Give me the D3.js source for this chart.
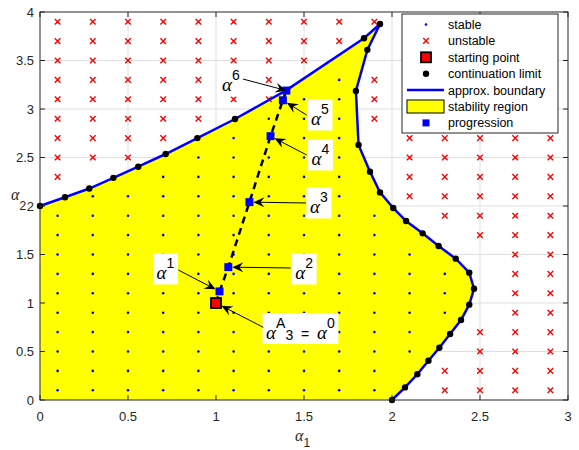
<!DOCTYPE html>
<html>
<head>
<meta charset="utf-8">
<script src="https://cdn.jsdelivr.net/npm/d3@7"></script>
<style>
body { margin: 0; background: #fff; }
svg { display: block; }
</style>
</head>
<body>
<div id="plot"></div>
<script>
var width = 579, height = 450
var plotLeft = 40, plotRight = 568, plotTop = 12, plotBottom = 400

// sample grid, one status string per column (j = 0 .. 19 from the bottom)
// S = stable, U = unstable, - = no marker
var gridX = [0.1, 0.3, 0.5, 0.7, 0.9, 1.1, 1.3, 1.5, 1.7, 1.9, 2.1, 2.3, 2.5, 2.7, 2.9]
var gridY = [0.1, 0.3, 0.5, 0.7, 0.9, 1.1, 1.3, 1.5, 1.7, 1.9, 2.1, 2.3, 2.5, 2.7, 2.9, 3.1, 3.3, 3.5, 3.7, 3.9]
var gridStatus = [
	'SSSSSSSSSS-UUUUUUUUU',
	'SSSSSSSSSSS-UUUUUUUU',
	'SSSSSSSSSSS-UUUUUUUU',
	'SSSSSSSSSSSS-UUUUUUU',
	'SSSSSSSSSSSSS-UUUUUU',
	'SSSSSSSSSSSSSS-UUUUU',
	'SSSSSSSSSSSSSSSUUUUU',
	'SSSSSSSSSSSSSSSS-UUU',
	'SSSSSSSSSSSSSSSSS-UU',
	'SSSSSSSSSS----UUU--U',
	'--SSSSSS--UUUUUUUUUU',
	'UU--SSS--UUUUUUUUUUU',
	'UUUU----UUUUUUUUUUUU',
	'UUUUUUUUUUUUUUUUUUUU',
	'UUUUUUUUUUUUUUUUUUUU'
]

// continuation limits (approx. boundary)
var boundaryX = [0, 0.142, 0.28, 0.417, 0.558, 0.714, 0.894, 1.108, 1.396, 1.841, 1.932, 1.86, 1.795, 1.81, 1.875, 1.932, 2.007, 2.08, 2.174, 2.265, 2.362, 2.439, 2.466, 2.439, 2.392, 2.33, 2.269, 2.207, 2.144, 2.074, 2.0]
var boundaryY = [2, 2.09, 2.18, 2.29, 2.405, 2.536, 2.70, 2.897, 3.19, 3.73, 3.876, 3.61, 3.186, 2.63, 2.354, 2.14, 1.98, 1.845, 1.718, 1.588, 1.457, 1.312, 1.148, 0.983, 0.825, 0.68, 0.539, 0.405, 0.265, 0.13, 0]

// progression alpha^0 .. alpha^6
var progX = [1.0, 1.02, 1.07, 1.19, 1.31, 1.38, 1.40]
var progY = [1.0, 1.12, 1.37, 2.04, 2.72, 3.09, 3.19]

// annotation label centres and arrow tails
var annLabelX = [1.480, 0.713, 1.501, 1.585, 1.594, 1.591, 1.085]
var annLabelY = [0.737, 1.351, 1.351, 2.031, 2.526, 2.938, 3.289]
var annTailX = [1.269, 0.786, 1.424, 1.511, 1.515, 1.515, 1.153]
var annTailY = [0.749, 1.340, 1.361, 2.031, 2.526, 2.938, 3.309]

var xTicks = [0, 0.5, 1, 1.5, 2, 2.5, 3]
var yTicks = [0, 0.5, 1, 1.5, 2, 2.5, 3, 3.5, 4]
var legendLabels = ['stable', 'unstable', 'starting point', 'continuation limit', 'approx. boundary', 'stability region', 'progression']

var sans = '"Liberation Sans", Arial, Helvetica, sans-serif'
var serif = '"Liberation Serif", "Times New Roman", serif'
var axisColor = '#262626'

var x = d3.scaleLinear().domain([0, 3]).range([plotLeft, plotRight])
var y = d3.scaleLinear().domain([0, 4]).range([plotBottom, plotTop])

var svg = d3.select('#plot').append('svg')
	.attr('width', width)
	.attr('height', height)
	.style('font-family', sans)

svg.append('rect').attr('width', width).attr('height', height).attr('fill', '#fff')

// grid
var grid = svg.append('g')
grid.selectAll('.gx').data(xTicks.slice(1, -1)).enter().append('line')
	.attr('x1', d => x(d)).attr('x2', d => x(d))
	.attr('y1', plotTop).attr('y2', plotBottom)
	.attr('stroke', '#dfdfdf').attr('stroke-width', 1)
grid.selectAll('.gy').data(yTicks.slice(1, -1)).enter().append('line')
	.attr('y1', d => y(d)).attr('y2', d => y(d))
	.attr('x1', plotLeft).attr('x2', plotRight)
	.attr('stroke', '#dfdfdf').attr('stroke-width', 1)

// stability region
var boundary = boundaryX.map((d, i) => [d, boundaryY[i]])
var region = boundary.concat([[0, 0]])
svg.append('path')
	.attr('d', d3.line().x(d => x(d[0])).y(d => y(d[1]))(region) + 'Z')
	.attr('fill', '#ffff00')

// grid markers
var stable = [], unstable = []
gridStatus.forEach(function(col, i){
	for (var j = 0; j < col.length; j++){
		if (col[j] == 'S') stable.push([gridX[i], gridY[j]])
		if (col[j] == 'U') unstable.push([gridX[i], gridY[j]])
	}
})
svg.append('g').selectAll('circle').data(stable).enter().append('circle')
	.attr('cx', d => x(d[0])).attr('cy', d => y(d[1]))
	.attr('r', 1.3).attr('fill', '#0000ff')

function cross(cx, cy, s){
	return 'M' + (cx - s) + ',' + (cy - s) + 'L' + (cx + s) + ',' + (cy + s) +
		'M' + (cx - s) + ',' + (cy + s) + 'L' + (cx + s) + ',' + (cy - s)
}
svg.append('g').selectAll('path').data(unstable).enter().append('path')
	.attr('d', d => cross(x(d[0]), y(d[1]), 2.8))
	.attr('stroke', '#ff0000').attr('stroke-width', 1.4).attr('fill', 'none')

// boundary
svg.append('path')
	.attr('d', d3.line().x(d => x(d[0])).y(d => y(d[1]))(boundary))
	.attr('fill', 'none').attr('stroke', '#0000ff').attr('stroke-width', 2.5)
svg.append('g').selectAll('circle').data(boundary).enter().append('circle')
	.attr('cx', d => x(d[0])).attr('cy', d => y(d[1]))
	.attr('r', 3.2).attr('fill', '#000')

// progression
var prog = progX.map((d, i) => [d, progY[i]])
svg.append('path')
	.attr('d', d3.line().x(d => x(d[0])).y(d => y(d[1]))(prog))
	.attr('fill', 'none').attr('stroke', '#000').attr('stroke-width', 2.5)
	.attr('stroke-dasharray', '7,5')
svg.append('g').selectAll('rect').data(prog.slice(1)).enter().append('rect')
	.attr('x', d => x(d[0]) - 4).attr('y', d => y(d[1]) - 4)
	.attr('width', 8).attr('height', 8).attr('fill', '#0000ff')
svg.append('rect')
	.attr('x', x(prog[0][0]) - 5).attr('y', y(prog[0][1]) - 5)
	.attr('width', 10).attr('height', 10)
	.attr('fill', '#ff0000').attr('stroke', '#000').attr('stroke-width', 1.8)

// annotations
function labelParts(i){
	if (i == 0) return [['α', 'g', 0], ['A', 's', -11], ['3', 's', 1], ['\u00a0\u00a0=\u00a0\u00a0', 's', 0], ['α', 'g', 0], ['0', 's', -11]]
	return [['α', 'g', 0], [String(i), 's', -11]]
}
var ann = svg.append('g')
annLabelX.forEach(function(lx, i){
	var g = ann.append('g')
	var t = g.append('text').attr('x', 0).attr('y', 0)
	var prev = 0
	labelParts(i).forEach(function(p){
		var ts = t.append('tspan').text(p[0]).attr('dy', p[2] - prev)
		prev = p[2]
		if (p[1] == 'g') ts.style('font-family', serif).style('font-style', 'italic').style('font-size', '19px')
		else ts.style('font-size', '14px')
	})
	t.attr('fill', '#000')
	var bb = t.node().getBBox()
	var cx = x(lx), cy = y(annLabelY[i])
	g.attr('transform', 'translate(' + (cx - bb.x - bb.width / 2) + ',' + (cy - bb.y - bb.height / 2) + ')')
	g.insert('rect', 'text')
		.attr('x', bb.x - 3.5).attr('y', bb.y - 1.5)
		.attr('width', bb.width + 7).attr('height', bb.height + 3)
		.attr('fill', '#fff')
})

function arrowHead(tx, ty, ux, uy){
	var L = 11, W = 5, N = 7
	var px = -uy, py = ux
	return 'M' + tx + ',' + ty +
		'L' + (tx - ux * L + px * W) + ',' + (ty - uy * L + py * W) +
		'L' + (tx - ux * N) + ',' + (ty - uy * N) +
		'L' + (tx - ux * L - px * W) + ',' + (ty - uy * L - py * W) + 'Z'
}
annTailX.forEach(function(tx, i){
	var sx = x(tx), sy = y(annTailY[i])
	var ex = x(progX[i]), ey = y(progY[i])
	var dx = ex - sx, dy = ey - sy
	var len = Math.sqrt(dx * dx + dy * dy)
	var ux = dx / len, uy = dy / len
	var half = i == 0 ? 5.5 : (i == 6 ? 0 : 4)
	var t = half / Math.max(Math.abs(ux), Math.abs(uy))
	ex = ex - ux * t; ey = ey - uy * t
	ann.append('line')
		.attr('x1', sx).attr('y1', sy).attr('x2', ex - ux * 6).attr('y2', ey - uy * 6)
		.attr('stroke', '#000').attr('stroke-width', 1)
	ann.append('path').attr('d', arrowHead(ex, ey, ux, uy)).attr('fill', '#000')
})

// axes box and ticks
var axes = svg.append('g')
axes.append('rect')
	.attr('x', plotLeft).attr('y', plotTop).attr('width', plotRight - plotLeft).attr('height', plotBottom - plotTop)
	.attr('fill', 'none').attr('stroke', axisColor).attr('stroke-width', 1)
xTicks.forEach(function(v){
	axes.append('line').attr('x1', x(v)).attr('x2', x(v)).attr('y1', plotBottom).attr('y2', plotBottom - 5).attr('stroke', axisColor)
	axes.append('line').attr('x1', x(v)).attr('x2', x(v)).attr('y1', plotTop).attr('y2', plotTop + 5).attr('stroke', axisColor)
	axes.append('text').attr('x', x(v)).attr('y', plotBottom + 21)
		.attr('text-anchor', 'middle').attr('fill', axisColor).style('font-size', '13px').text(String(v))
})
yTicks.forEach(function(v){
	axes.append('line').attr('y1', y(v)).attr('y2', y(v)).attr('x1', plotLeft).attr('x2', plotLeft + 5).attr('stroke', axisColor)
	axes.append('line').attr('y1', y(v)).attr('y2', y(v)).attr('x1', plotRight).attr('x2', plotRight - 5).attr('stroke', axisColor)
	axes.append('text').attr('x', plotLeft - 6).attr('y', y(v) + 4.5)
		.attr('text-anchor', 'end').attr('fill', axisColor).style('font-size', '13px').text(String(v))
})

// axis labels
var xl = axes.append('text').attr('x', 295).attr('y', 441).attr('fill', axisColor)
xl.append('tspan').text('α').style('font-family', serif).style('font-style', 'italic').style('font-size', '16px')
xl.append('tspan').text('1').attr('dy', 6).style('font-size', '12px')
var yl = axes.append('text').attr('x', 11).attr('y', 200).attr('fill', axisColor)
yl.append('tspan').text('α').style('font-family', serif).style('font-style', 'italic').style('font-size', '16px')
yl.append('tspan').text('2').attr('dy', 10).style('font-size', '12px')

// legend
var lg = svg.append('g')
var lgX = 402, lgY = 14, lgW = 156, lgH = 119, rowH = 16.4, iconX = 426
lg.append('rect').attr('x', lgX).attr('y', lgY).attr('width', lgW).attr('height', lgH)
	.attr('fill', '#fff').attr('stroke', axisColor).attr('stroke-width', 1)
legendLabels.forEach(function(name, i){
	var cy = lgY + 10.5 + i * rowH
	if (i == 0) lg.append('circle').attr('cx', iconX).attr('cy', cy).attr('r', 1.3).attr('fill', '#0000ff')
	if (i == 1) lg.append('path').attr('d', cross(iconX, cy, 2.8)).attr('stroke', '#ff0000').attr('stroke-width', 1.4)
	if (i == 2) lg.append('rect').attr('x', iconX - 5).attr('y', cy - 5).attr('width', 10).attr('height', 10)
		.attr('fill', '#ff0000').attr('stroke', '#000').attr('stroke-width', 1.8)
	if (i == 3) lg.append('circle').attr('cx', iconX).attr('cy', cy).attr('r', 3.2).attr('fill', '#000')
	if (i == 4) lg.append('line').attr('x1', 407).attr('x2', 444).attr('y1', cy).attr('y2', cy)
		.attr('stroke', '#0000ff').attr('stroke-width', 2.5)
	if (i == 5) lg.append('rect').attr('x', 407).attr('y', cy - 6.5).attr('width', 37).attr('height', 13)
		.attr('fill', '#ffff00').attr('stroke', '#000').attr('stroke-width', 1)
	if (i == 6) lg.append('rect').attr('x', iconX - 3.5).attr('y', cy - 3.5).attr('width', 7).attr('height', 7).attr('fill', '#0000ff')
	lg.append('text').attr('x', 448).attr('y', cy + 4.5).attr('fill', '#000')
		.style('font-size', '12.5px').text(name)
})
</script>
</body>
</html>
